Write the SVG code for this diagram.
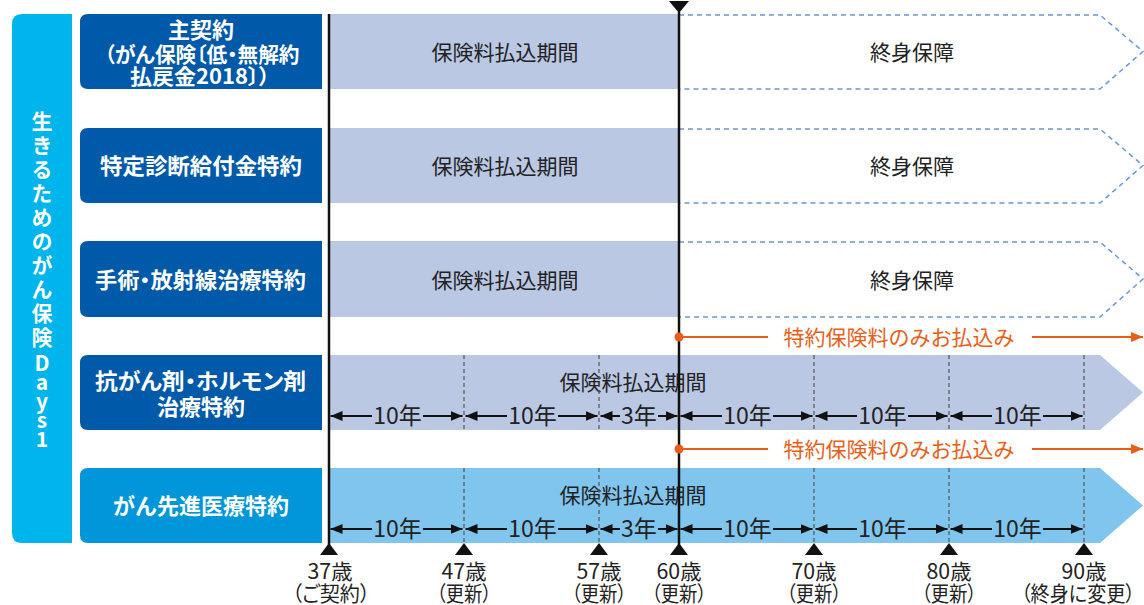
<svg xmlns="http://www.w3.org/2000/svg" width="1144" height="605" viewBox="0 0 1144 605">
<style>
text{font-family:"Noto Sans CJK JP","Noto Sans",sans-serif;}
.lbl{font-size:22px;font-weight:bold;fill:#fff;text-anchor:middle;}
.vt{font-size:21px;font-weight:bold;fill:#fff;writing-mode:vertical-rl;text-orientation:upright;}
.bt{font-size:21px;fill:#222;text-anchor:middle;}
.dim{font-size:23px;fill:#222;text-anchor:middle;}
.or{font-size:21px;fill:#e95e16;text-anchor:middle;}
.age{font-size:21px;fill:#222;text-anchor:middle;font-feature-settings:"palt";}
.navy{fill:#0059a9;}
.lite{fill:#bac8e4;}
.sky{fill:#80c5ee;}
.dash{fill:none;stroke:#6a97d6;stroke-width:1.5;stroke-dasharray:5 4;}
.sep{stroke:#555;stroke-width:1.2;stroke-dasharray:4 3;}
.dl{stroke:#111;stroke-width:2;marker-end:url(#ah);}
.ol{stroke:#e95e16;stroke-width:2.2;fill:none;}
.axis{stroke:#111;stroke-width:2.5;}
</style>
<defs>
<marker id="ah" viewBox="0 0 12 10" refX="12" refY="5" markerWidth="12" markerHeight="10" markerUnits="userSpaceOnUse" orient="auto"><path d="M0,0 L12,5 L0,10 z" fill="#111"/></marker>
<marker id="oah" viewBox="0 0 12 10" refX="12" refY="5" markerWidth="12" markerHeight="10" markerUnits="userSpaceOnUse" orient="auto"><path d="M0,0 L12,5 L0,10 z" fill="#e95e16"/></marker>
</defs>

<g id="title-bar">
<path d="M22,14 H72 V543 H22 Q12,543 12,533 V24 Q12,14 22,14 Z" fill="#00b5ec"/>
<text class="vt" x="42" y="111" style="letter-spacing:3px">生きるためのがん保険</text>
<text class="vt" x="42" y="353" style="letter-spacing:-2px">Days1</text>
</g>

<g id="row1">
<path class="navy" d="M88,14 H322 V89 H88 Q80,89 80,81 V22 Q80,14 88,14 Z"/>
<text class="lbl" x="201" y="38">主契約</text>
<text class="lbl" x="202" y="62" style="font-size:21px;font-feature-settings:'palt'" textLength="195" lengthAdjust="spacingAndGlyphs">（がん保険〔低・無解約</text>
<text class="lbl" x="200" y="84" style="font-size:21px;font-feature-settings:'palt'" textLength="140" lengthAdjust="spacingAndGlyphs">払戻金2018〕）</text>
<rect class="lite" x="329" y="14" width="350" height="75"/>
<text class="bt" x="505" y="60">保険料払込期間</text>
<polyline class="dash" points="679,15 1100,15 1143,51.5 1100,89 679,89"/>
<text class="bt" x="912" y="60">終身保障</text>
</g>

<g id="row2">
<path class="navy" d="M88,128 H322 V203 H88 Q80,203 80,195 V136 Q80,128 88,128 Z"/>
<text class="lbl" x="201" y="174" textLength="202" lengthAdjust="spacingAndGlyphs">特定診断給付金特約</text>
<rect class="lite" x="329" y="128" width="350" height="75"/>
<text class="bt" x="505" y="174">保険料払込期間</text>
<polyline class="dash" points="679,129 1100,129 1143,165.5 1100,203 679,203"/>
<text class="bt" x="912" y="174">終身保障</text>
</g>

<g id="row3">
<path class="navy" d="M88,241 H322 V317 H88 Q80,317 80,309 V249 Q80,241 88,241 Z"/>
<text class="lbl" x="200.5" y="288" style="font-feature-settings:'palt'" textLength="211" lengthAdjust="spacingAndGlyphs">手術・放射線治療特約</text>
<rect class="lite" x="329" y="241" width="350" height="76"/>
<text class="bt" x="505" y="288">保険料払込期間</text>
<polyline class="dash" points="679,242 1100,242 1143,279 1100,317 679,317"/>
<text class="bt" x="912" y="288">終身保障</text>
</g>

<g id="row4">
<path class="navy" d="M88,355 H322 V430 H88 Q80,430 80,422 V363 Q80,355 88,355 Z"/>
<text class="lbl" x="200.5" y="389" style="font-feature-settings:'palt'" textLength="211" lengthAdjust="spacingAndGlyphs">抗がん剤・ホルモン剤</text>
<text class="lbl" x="201" y="415">治療特約</text>
<polygon class="lite" points="329,355 1100,355 1143,392.5 1100,430 329,430"/>
<text class="bt" x="633" y="390">保険料払込期間</text>
</g>

<g id="row5">
<path d="M88,468 H322 V543 H88 Q80,543 80,535 V476 Q80,468 88,468 Z" fill="#0096d9"/>
<text class="lbl" x="201" y="514">がん先進医療特約</text>
<polygon class="sky" points="329,468 1100,468 1143,505.5 1100,543 329,543"/>
<text class="bt" x="633" y="503">保険料払込期間</text>
</g>

<g id="connectors">
<line class="sep" x1="464" y1="355" x2="464" y2="430"/>
<line class="sep" x1="599" y1="355" x2="599" y2="430"/>
<line class="sep" x1="814" y1="355" x2="814" y2="430"/>
<line class="sep" x1="949" y1="355" x2="949" y2="430"/>
<line class="sep" x1="1084" y1="355" x2="1084" y2="430"/>
<line class="sep" x1="464" y1="468" x2="464" y2="543"/>
<line class="sep" x1="599" y1="468" x2="599" y2="543"/>
<line class="sep" x1="814" y1="468" x2="814" y2="543"/>
<line class="sep" x1="949" y1="468" x2="949" y2="543"/>
<line class="sep" x1="1084" y1="468" x2="1084" y2="543"/>

<line class="axis" x1="329" y1="14" x2="329" y2="545"/>
<line class="axis" x1="679" y1="12" x2="679" y2="545"/>
<polygon points="669,1 689,1 679,13" fill="#111"/>

<line class="dl" x1="372" y1="416" x2="330.5" y2="416"/>
<line class="dl" x1="423" y1="416" x2="462.5" y2="416"/>
<line class="dl" x1="507" y1="416" x2="465.5" y2="416"/>
<line class="dl" x1="558" y1="416" x2="597.5" y2="416"/>
<line class="dl" x1="620" y1="416" x2="600.5" y2="416"/>
<line class="dl" x1="658" y1="416" x2="677.5" y2="416"/>
<line class="dl" x1="722" y1="416" x2="680.5" y2="416"/>
<line class="dl" x1="773" y1="416" x2="812.5" y2="416"/>
<line class="dl" x1="857" y1="416" x2="815.5" y2="416"/>
<line class="dl" x1="908" y1="416" x2="947.5" y2="416"/>
<line class="dl" x1="992" y1="416" x2="950.5" y2="416"/>
<line class="dl" x1="1043" y1="416" x2="1082.5" y2="416"/>
<text class="dim" x="397.5" y="424">10年</text>
<text class="dim" x="532.5" y="424">10年</text>
<text class="dim" x="639" y="424">3年</text>
<text class="dim" x="747.5" y="424">10年</text>
<text class="dim" x="882.5" y="424">10年</text>
<text class="dim" x="1017.5" y="424">10年</text>

<line class="dl" x1="372" y1="529" x2="330.5" y2="529"/>
<line class="dl" x1="423" y1="529" x2="462.5" y2="529"/>
<line class="dl" x1="507" y1="529" x2="465.5" y2="529"/>
<line class="dl" x1="558" y1="529" x2="597.5" y2="529"/>
<line class="dl" x1="620" y1="529" x2="600.5" y2="529"/>
<line class="dl" x1="658" y1="529" x2="677.5" y2="529"/>
<line class="dl" x1="722" y1="529" x2="680.5" y2="529"/>
<line class="dl" x1="773" y1="529" x2="812.5" y2="529"/>
<line class="dl" x1="857" y1="529" x2="815.5" y2="529"/>
<line class="dl" x1="908" y1="529" x2="947.5" y2="529"/>
<line class="dl" x1="992" y1="529" x2="950.5" y2="529"/>
<line class="dl" x1="1043" y1="529" x2="1082.5" y2="529"/>
<text class="dim" x="397.5" y="537">10年</text>
<text class="dim" x="532.5" y="537">10年</text>
<text class="dim" x="639" y="537">3年</text>
<text class="dim" x="747.5" y="537">10年</text>
<text class="dim" x="882.5" y="537">10年</text>
<text class="dim" x="1017.5" y="537">10年</text>

<circle cx="679" cy="337" r="4.5" fill="#e95e16"/>
<line class="ol" x1="679" y1="337" x2="768" y2="337"/>
<line class="ol" x1="1032" y1="337" x2="1143" y2="337" marker-end="url(#oah)"/>
<text class="or" x="899" y="345">特約保険料のみお払込み</text>
<circle cx="679" cy="449" r="4.5" fill="#e95e16"/>
<line class="ol" x1="679" y1="449" x2="768" y2="449"/>
<line class="ol" x1="1032" y1="449" x2="1143" y2="449" marker-end="url(#oah)"/>
<text class="or" x="899" y="457">特約保険料のみお払込み</text>

<polygon points="329,543 320,555 338,555" fill="#111"/>
<polygon points="464,543 455,555 473,555" fill="#111"/>
<polygon points="599,543 590,555 608,555" fill="#111"/>
<polygon points="679,543 670,555 688,555" fill="#111"/>
<polygon points="814,543 805,555 823,555" fill="#111"/>
<polygon points="949,543 940,555 958,555" fill="#111"/>
<polygon points="1084,543 1075,555 1093,555" fill="#111"/>
</g>

<g id="age-labels">
<text class="age" x="330" y="579" textLength="45" lengthAdjust="spacingAndGlyphs">37歳</text>
<text class="age" x="331" y="601" textLength="78" lengthAdjust="spacingAndGlyphs">（ご契約）</text>
<text class="age" x="464" y="579" textLength="45" lengthAdjust="spacingAndGlyphs">47歳</text>
<text class="age" x="464" y="601" textLength="55" lengthAdjust="spacingAndGlyphs">（更新）</text>
<text class="age" x="599" y="579" textLength="45" lengthAdjust="spacingAndGlyphs">57歳</text>
<text class="age" x="599" y="601" textLength="55" lengthAdjust="spacingAndGlyphs">（更新）</text>
<text class="age" x="679" y="579" textLength="45" lengthAdjust="spacingAndGlyphs">60歳</text>
<text class="age" x="679" y="601" textLength="55" lengthAdjust="spacingAndGlyphs">（更新）</text>
<text class="age" x="814" y="579" textLength="45" lengthAdjust="spacingAndGlyphs">70歳</text>
<text class="age" x="814" y="601" textLength="55" lengthAdjust="spacingAndGlyphs">（更新）</text>
<text class="age" x="949" y="579" textLength="45" lengthAdjust="spacingAndGlyphs">80歳</text>
<text class="age" x="949" y="601" textLength="55" lengthAdjust="spacingAndGlyphs">（更新）</text>
<text class="age" x="1084" y="579" textLength="45" lengthAdjust="spacingAndGlyphs">90歳</text>
<text class="age" x="1078" y="601" textLength="114" lengthAdjust="spacingAndGlyphs">（終身に変更）</text>
</g>
</svg>
